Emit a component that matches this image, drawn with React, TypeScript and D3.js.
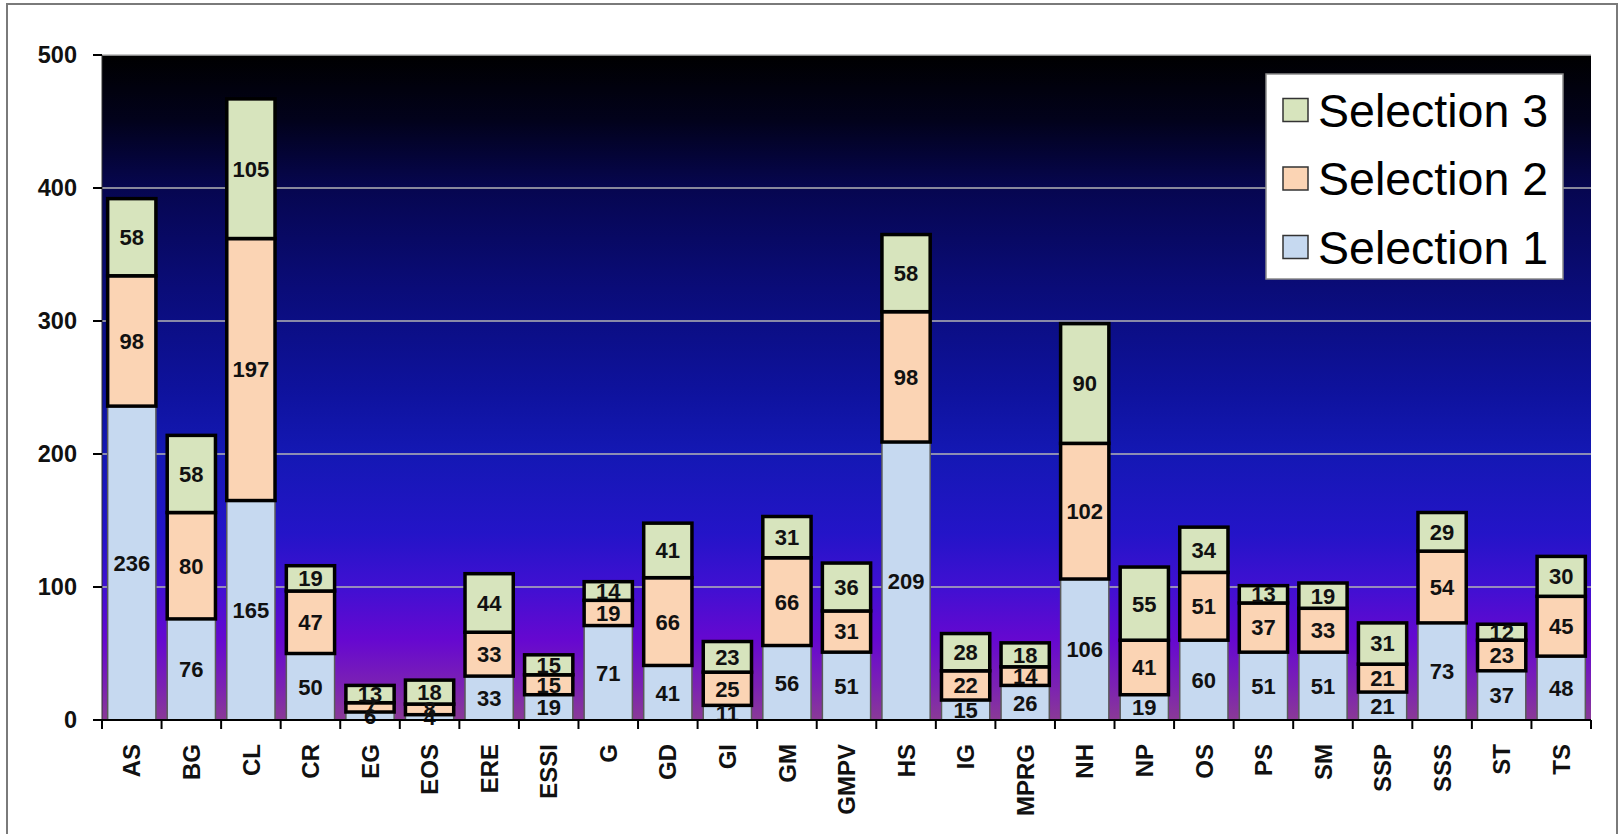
import React from "react";
import * as d3 from "d3";

const categories = ["AS","BG","CL","CR","EG","EOS","ERE","ESSI","G","GD","GI","GM","GMPV","HS","IG","MPRG","NH","NP","OS","PS","SM","SSP","SSS","ST","TS"];
const selection1 = [236,76,165,50,6,4,33,19,71,41,11,56,51,209,15,26,106,19,60,51,51,21,73,37,48];
const selection2 = [98,80,197,47,7,8,33,15,19,66,25,66,31,98,22,14,102,41,51,37,33,21,54,23,45];
const selection3 = [58,58,105,19,13,18,44,15,14,41,23,31,36,58,28,18,90,55,34,13,19,31,29,12,30];
const seriesNames = ["Selection 1","Selection 2","Selection 3"];
const yTicks = [0,100,200,300,400,500];

const W = 1619, H = 834;
const plot = { left: 102, right: 1591, top: 55, bottom: 720 };
const colors = ["#c6d9f0", "#fbd4b4", "#d7e4bd"];
const FONT = "'Liberation Sans', Arial, sans-serif";

export default function App() {
  const x = d3.scaleBand<string>().domain(categories).range([plot.left, plot.right]).paddingInner(0.19).paddingOuter(0.095);
  const y = d3.scaleLinear().domain([0, 500]).range([plot.bottom, plot.top]);
  const rows = categories.map((c, i) => ({ c, s1: selection1[i], s2: selection2[i], s3: selection3[i] }));
  const stack = d3.stack<any>().keys(["s1", "s2", "s3"])(rows);
  const step = x.step();
  const bandStarts = categories.map((c) => (x(c) as number) - (step - x.bandwidth()) / 2);

  return (
    <svg width={W} height={H} style={{ position: "absolute", left: 0, top: 0, background: "#fff" }} fontFamily={FONT}>
      <defs>
        <linearGradient id="bg" x1="0" y1="0" x2="0" y2="1">
          <stop offset="0" stopColor="#000000" />
          <stop offset="0.1" stopColor="#02021c" />
          <stop offset="0.2" stopColor="#060650" />
          <stop offset="0.35" stopColor="#0a0c78" />
          <stop offset="0.5" stopColor="#0e129c" />
          <stop offset="0.6" stopColor="#1418b4" />
          <stop offset="0.72" stopColor="#2414c8" />
          <stop offset="0.8" stopColor="#4010d2" />
          <stop offset="0.88" stopColor="#6608d0" />
          <stop offset="0.95" stopColor="#7c22b2" />
          <stop offset="1" stopColor="#8a3a96" />
        </linearGradient>
      </defs>
      <rect x={7} y={4} width={1610} height={840} fill="#fff" stroke="#7a7a7a" strokeWidth={2} />
      <rect x={plot.left} y={plot.top} width={plot.right - plot.left} height={plot.bottom - plot.top} fill="url(#bg)" />
      {yTicks.filter((t) => t > 0).map((t) => (
        <line key={t} x1={plot.left} x2={plot.right} y1={y(t)} y2={y(t)} stroke="#b4b4b4" strokeWidth={1.5} />
      ))}
      {stack.map((layer, li) =>
        layer.map((d, i) => {
          const c = categories[i];
          const x0 = x(c) as number;
          const y0 = y(d[1]);
          const h = y(d[0]) - y(d[1]);
          return (
            <rect key={`${li}-${i}`} x={x0} y={y0} width={x.bandwidth()} height={h} fill={colors[li]}
              stroke={li === 0 ? "#5a5a5a" : "#000"} strokeWidth={li === 0 ? 1.5 : 3.5} />
          );
        })
      )}
      {stack.map((layer, li) =>
        layer.map((d, i) => {
          const c = categories[i];
          const cx = (x(c) as number) + x.bandwidth() / 2;
          const cy = (y(d[0]) + y(d[1])) / 2;
          const v = d[1] - d[0];
          return (
            <text key={`t${li}-${i}`} x={cx} y={cy} dy="0.36em" textAnchor="middle" fontSize={22} fontWeight="bold" fill="#111">{v}</text>
          );
        })
      )}
      <line x1={plot.left} x2={plot.left} y1={plot.top} y2={plot.bottom} stroke="#333" strokeWidth={1} />
      <line x1={plot.left} x2={plot.right} y1={plot.bottom} y2={plot.bottom} stroke="#000" strokeWidth={2} />
      {yTicks.map((t) => (
        <g key={`y${t}`}>
          <line x1={plot.left - 9} x2={plot.left} y1={y(t)} y2={y(t)} stroke="#000" strokeWidth={2} />
          <text x={77} y={y(t)} dy="0.36em" textAnchor="end" fontSize={23.5} fontWeight="bold" fill="#111">{t}</text>
        </g>
      ))}
      {categories.concat(["__end"]).map((c, i) => {
        const xx = i < categories.length ? bandStarts[i] : plot.right;
        return <line key={`xt${i}`} x1={xx} x2={xx} y1={plot.bottom} y2={plot.bottom + 9} stroke="#000" strokeWidth={2} />;
      })}
      {categories.map((c) => {
        const cx = (x(c) as number) + x.bandwidth() / 2;
        return (
          <text key={`xl${c}`} transform={`translate(${cx},${plot.bottom + 24}) rotate(-90)`} dy="0.36em" textAnchor="end" fontSize={24} fontWeight="bold" fill="#111">{c}</text>
        );
      })}
      <g>
        <rect x={1266} y={74} width={297} height={205} fill="#fff" stroke="#8a8a8a" strokeWidth={1.5} />
        {[2, 1, 0].map((si, row) => {
          const cy = 110 + row * 68.5;
          return (
            <g key={`lg${si}`}>
              <rect x={1283} y={cy - 11.5} width={25} height={23} fill={colors[si]} stroke="#333" strokeWidth={1.5} />
              <text x={1318} y={cy} dy="0.36em" fontSize={46.5} fill="#000">{seriesNames[si]}</text>
            </g>
          );
        })}
      </g>
    </svg>
  );
}
